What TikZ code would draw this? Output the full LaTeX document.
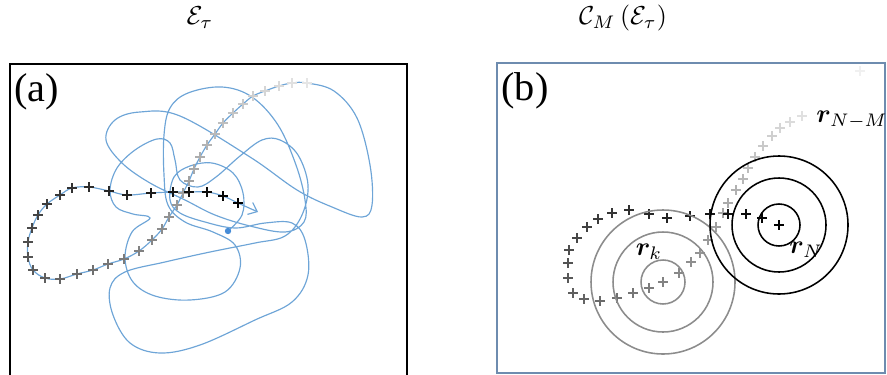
\documentclass[tikz,border=0pt]{standalone}
\usepackage{fontspec}
\usepackage{amsmath}
\usepackage{bm}
\usepackage{xcolor}
\usepackage{tikz}
\usetikzlibrary{arrows.meta, positioning}
\newfontfamily\panelfont{Liberation Serif}
\definecolor{trajblue}{RGB}{110,165,215}
\definecolor{dotblue}{RGB}{70,140,215}
\definecolor{frameb}{RGB}{110,140,175}

\begin{document}
\begin{tikzpicture}[
  x=0.385pt, y=-0.385pt,
  traj/.style={draw=trajblue, line width=0.45pt},
  crossmark/.style={line width=0.95pt},
  ring/.style={line width=0.6pt},
  panel/.style={font=\panelfont\fontsize{15.5}{17}\selectfont, inner sep=0pt},
  title/.style={font=\fontsize{10}{12}\selectfont, inner sep=0pt},
  lbl/.style={font=\fontsize{10}{12}\selectfont, inner sep=0pt},
  >={Straight Barb[length=3pt,width=5pt]}
]
\useasboundingbox (0,0) rectangle (887,374);

% titles
\node[title] (tA) at (200,18) {$\mathcal{E}_\tau$};
\node[title] (tB) at (623,18) {$\mathcal{C}_M\left(\mathcal{E}_\tau\right)$};

% panel (a)
\draw[line width=0.55pt] (10,376) -- (10,64) -- (407,64) -- (407,376);
\node[panel, anchor=north west] (la) at (14,73) {(a)};

\coordinate (start) at (228,231);
\draw[traj, ->] plot[smooth, tension=0.6] coordinates {
  (228,231) (242,215) (243,193) (233,173) (212,163) (190,166) (174,177) (170,200)
  (180,213) (205,222) (235,228) (265,223) (292,223) (305,240) (308,275) (292,302)
  (255,320) (200,345) (160,353) (130,343) (113,315) (110,288) (125,272) (165,262)
  (210,252) (255,243) (285,236) (302,215) (308,185) (298,155) (280,140) (262,140)
  (240,156) (216,177) (198,187) (180,180) (175,160) (170,143) (157,139) (135,150)
  (117,168) (110,190) (116,207) (133,214) (150,218) (132,232) (125,258) (133,282)
  (155,296) (190,300) (225,292) (240,268) (235,245) (213,232) (185,222) (168,205)
  (164,175) (164,135) (170,108) (188,93) (222,87) (252,97) (278,125) (296,165)
  (305,200) (304,222) (285,232) (250,226) (215,215) (185,200) (150,183) (122,163)
  (106,140) (115,120) (140,112) (180,116) (250,157) (297,190) (332,207) (362,217)
  (372,205) (370,165) (357,118) (334,91) (307,83) (292,83) (279,86) (265,91)
  (253,96) (243,104) (233,113) (223,123) (215,134) (207,145) (200,157) (194,169)
  (189,181) (183,193) (177,205) (169,217) (162,229) (152,240) (139,251) (124,259)
  (108,264) (93,270) (77,274) (60,279) (45,278) (33,270) (28,257) (28,242)
  (32,228) (38,215) (47,204) (60,195) (72,188) (89,187) (109,191) (127,195)
  (151,193) (173,192) (189,192) (207,192) (223,196) (238,203) (258,212)};
\fill[dotblue] (start) circle (3.2);

\foreach \pos [count=\i] in {(307,83),(292,83),(279,86),(265,91),(253,96),(243,104),
  (233,113),(223,123),(215,134),(207,145),(200,157),(194,169),(189,181),(183,193),
  (177,205),(169,217),(162,229),(152,240),(139,251),(124,259),(108,264),(93,270),
  (77,274),(60,279),(45,278),(33,270),(28,257),(28,242),(32,228),(38,215),(47,204),
  (60,195),(72,188),(89,187),(109,191),(127,195),(151,193),(173,192),(189,192),
  (207,192),(223,196),(238,203)} {
  \pgfmathsetmacro\shade{10+90*(\i-1)/41}
  \draw[crossmark, black!\shade] \pos ++(-5,0) -- ++(10,0) \pos ++(0,-5) -- ++(0,10);
}

% panel (b)
\draw[frameb, line width=0.8pt] (497,63) rectangle (885,373);
\node[panel, anchor=north west] (lb) at (501,72) {(b)};

\draw[crossmark, black!6] (860,71) ++(-5,0) -- ++(10,0) (860,71) ++(0,-5) -- ++(0,10);
\foreach \pos [count=\i] in {(802,116),(790,122),(780,128),(772,136),(763,146),
  (755,157),(748,168),(743,179),(736,190),(728,203),(723,213),(716,227),(708,240),
  (700,253),(691,262),(679,273),(663,282),(649,288),(633,293),(617,298),(600,301),
  (584,299),(573,293),(568,278),(568,263),(569,250),(577,238),(587,227),(598,219),
  (612,213),(629,210),(649,214),(667,218),(690,216),(710,214),(728,214),(746,214),
  (762,218),(779,225)} {
  \pgfmathsetmacro\shade{12+88*(\i-1)/38}
  \draw[crossmark, black!\shade] \pos ++(-5,0) -- ++(10,0) \pos ++(0,-5) -- ++(0,10);
}

\coordinate (ck) at (663,282);
\coordinate (cN) at (779,225);
\foreach \rad in {22,50,72}
  \draw[ring, black!45] (ck) circle (\rad);
\foreach \rad in {21,47,69}
  \draw[ring, black] (cN) circle (\rad);

\node[lbl] (rk) at (649,252) {$\bm{r}_k$};
\node[lbl] (rN) at (806,250) {$\bm{r}_N$};
\node[lbl] (rNM) at (852,120) {$\bm{r}_{N-M}$};
\end{tikzpicture}
\end{document}
